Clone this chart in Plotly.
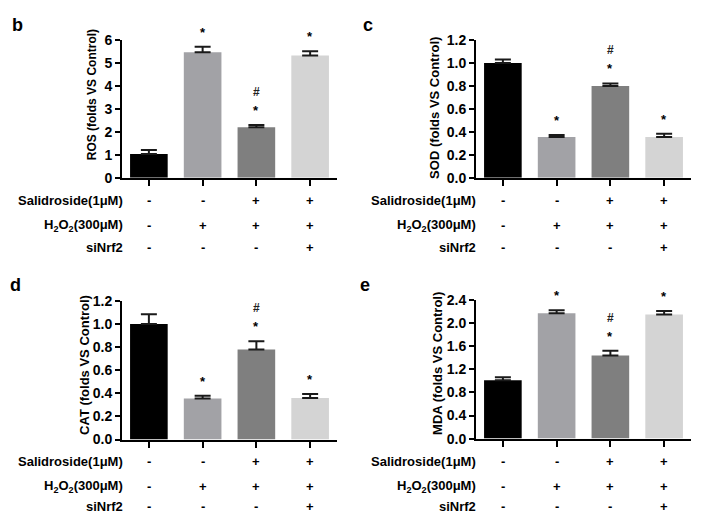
import plotly.graph_objects as go

W, H = 706, 531

# ---------------- data ----------------
groups = ["Control", "H2O2", "Salidroside+H2O2", "Salidroside+H2O2+siNrf2"]
bar_colors = ["#000000", "#a2a2a6", "#7f7f7f", "#d4d4d4"]

ros_mean = [1.03, 5.47, 2.20, 5.33]
ros_err = [0.18, 0.24, 0.10, 0.18]

sod_mean = [1.00, 0.355, 0.80, 0.355]
sod_err = [0.03, 0.018, 0.022, 0.028]

cat_mean = [1.00, 0.355, 0.78, 0.36]
cat_err = [0.085, 0.025, 0.07, 0.035]

mda_mean = [1.01, 2.17, 1.44, 2.15]
mda_err = [0.05, 0.05, 0.08, 0.06]

star_flags = [False, True, True, True]
hash_flags = [False, False, True, False]

row_labels = ["Salidroside(1μM)", "H<sub>2</sub>O<sub>2</sub>(300μM)", "siNrf2"]
row_signs = [["-", "-", "+", "+"],
             ["-", "+", "+", "+"],
             ["-", "-", "-", "+"]]

panels = [
    # letter, title, mean, err, yrange, dtick, fmt
    ("b", "ROS (folds VS Control)", ros_mean, ros_err, [0, 6], 1, "d"),
    ("c", "SOD (folds VS Control)", sod_mean, sod_err, [0, 1.2], 0.2, ".1f"),
    ("d", "CAT (folds VS Control)", cat_mean, cat_err, [0, 1.2], 0.2, ".1f"),
    ("e", "MDA (folds VS Control)", mda_mean, mda_err, [0, 2.4], 0.4, ".1f"),
]

# ---------------- layout geometry (pixels) ----------------
# x0, x1, ytop, ybottom of plot area
geo = [(122, 337, 33, 175), (476, 691, 33, 175),
       (122, 337, 302, 445), (476, 691, 301, 444)]
title_pos = [(92, 90, 12), (435, 103, 13), (85, 368, 13), (438, 367, 13)]
letter_pos = [(10, 26), (361, 26), (8, 294), (358, 294)]
row_y = [[198, 224, 247], [198, 224, 247], [468, 493, 514], [468, 493, 514]]
label_right = [125, 478, 125, 478]

FONT = "Liberation Sans, Arial, sans-serif"

def px(x):
    return x / W

def py(y):
    return 1 - y / H

fig = go.Figure()
layout = dict(width=W, height=H, margin=dict(l=0, r=0, t=0, b=0),
              paper_bgcolor="white", plot_bgcolor="white", showlegend=False,
              font=dict(family=FONT, color="black"))
annotations = []

for i, (letter, title, mean, err, yr, dt, fmt) in enumerate(panels):
    n = "" if i == 0 else str(i + 1)
    xa, ya = "x" + n, "y" + n
    x0, x1, yt, yb = geo[i]
    fig.add_trace(go.Bar(
        x=[0, 1, 2, 3], y=mean, width=0.7, xaxis=xa, yaxis=ya,
        marker=dict(color=bar_colors, line=dict(width=0)),
        error_y=dict(type="data", symmetric=False, array=err,
                     arrayminus=[0] * 4, color="#1a1a1a", thickness=2, width=8),
        hoverinfo="skip"))
    layout["xaxis" + n] = dict(domain=[px(x0), px(x1)], range=[-0.5, 3.5], anchor=ya,
                               showgrid=False, zeroline=False, showline=True,
                               linecolor="black", linewidth=2, ticks="outside",
                               ticklen=6, tickwidth=2, tickcolor="black",
                               tickvals=[0, 1, 2, 3], showticklabels=False,
                               fixedrange=True)
    layout["yaxis" + n] = dict(domain=[py(yb), py(yt)], range=yr, anchor=xa,
                               showgrid=False, zeroline=False, showline=True,
                               linecolor="black", linewidth=2, ticks="outside",
                               ticklen=5, tickwidth=2, tickcolor="black",
                               dtick=dt, tick0=0, tickformat=fmt,
                               tickfont=dict(family=FONT, size=14, color="black",
                                             weight="bold"),
                               fixedrange=True)
    # significance marks
    for j in range(4):
        top = mean[j] + err[j]
        if star_flags[j]:
            annotations.append(dict(x=j, y=top, xref=xa, yref=ya, text="<b>*</b>",
                                    showarrow=False, yanchor="bottom", yshift=5,
                                    font=dict(family=FONT, size=13, color="black")))
        if hash_flags[j]:
            annotations.append(dict(x=j, y=top, xref=xa, yref=ya, text="<b>#</b>",
                                    showarrow=False, yanchor="bottom", yshift=24,
                                    font=dict(family=FONT, size=12, color="#222222")))
    # y-axis title
    tx, ty, tfs = title_pos[i]
    annotations.append(dict(x=px(tx), y=py(ty), xref="paper", yref="paper",
                            text="<b>" + title + "</b>", textangle=-90,
                            showarrow=False, xanchor="center", yanchor="middle",
                            font=dict(family=FONT, size=tfs, color="black")))
    # panel letter
    lx, ly = letter_pos[i]
    annotations.append(dict(x=px(lx), y=py(ly + 4), xref="paper", yref="paper",
                            text="<b>" + letter + "</b>", showarrow=False,
                            xanchor="left", yanchor="bottom",
                            font=dict(family=FONT, size=18, color="black")))
    # condition table
    for r in range(3):
        yy = py(row_y[i][r])
        annotations.append(dict(x=px(label_right[i]), y=yy, xref="paper", yref="paper",
                                text="<b>" + row_labels[r] + "</b>", showarrow=False,
                                xanchor="right", yanchor="middle",
                                font=dict(family=FONT, size=13, color="black")))
        for j in range(4):
            annotations.append(dict(x=j, y=yy, xref=xa, yref="paper",
                                    text="<b>" + row_signs[r][j] + "</b>",
                                    showarrow=False, xanchor="center", yanchor="middle",
                                    font=dict(family=FONT, size=13, color="black")))

layout["annotations"] = annotations
fig.update_layout(**layout)
fig.write_html("out.html", config={"displayModeBar": False},
               post_script="document.body.style.margin='0px';"
                           "document.body.style.overflow='hidden';")
